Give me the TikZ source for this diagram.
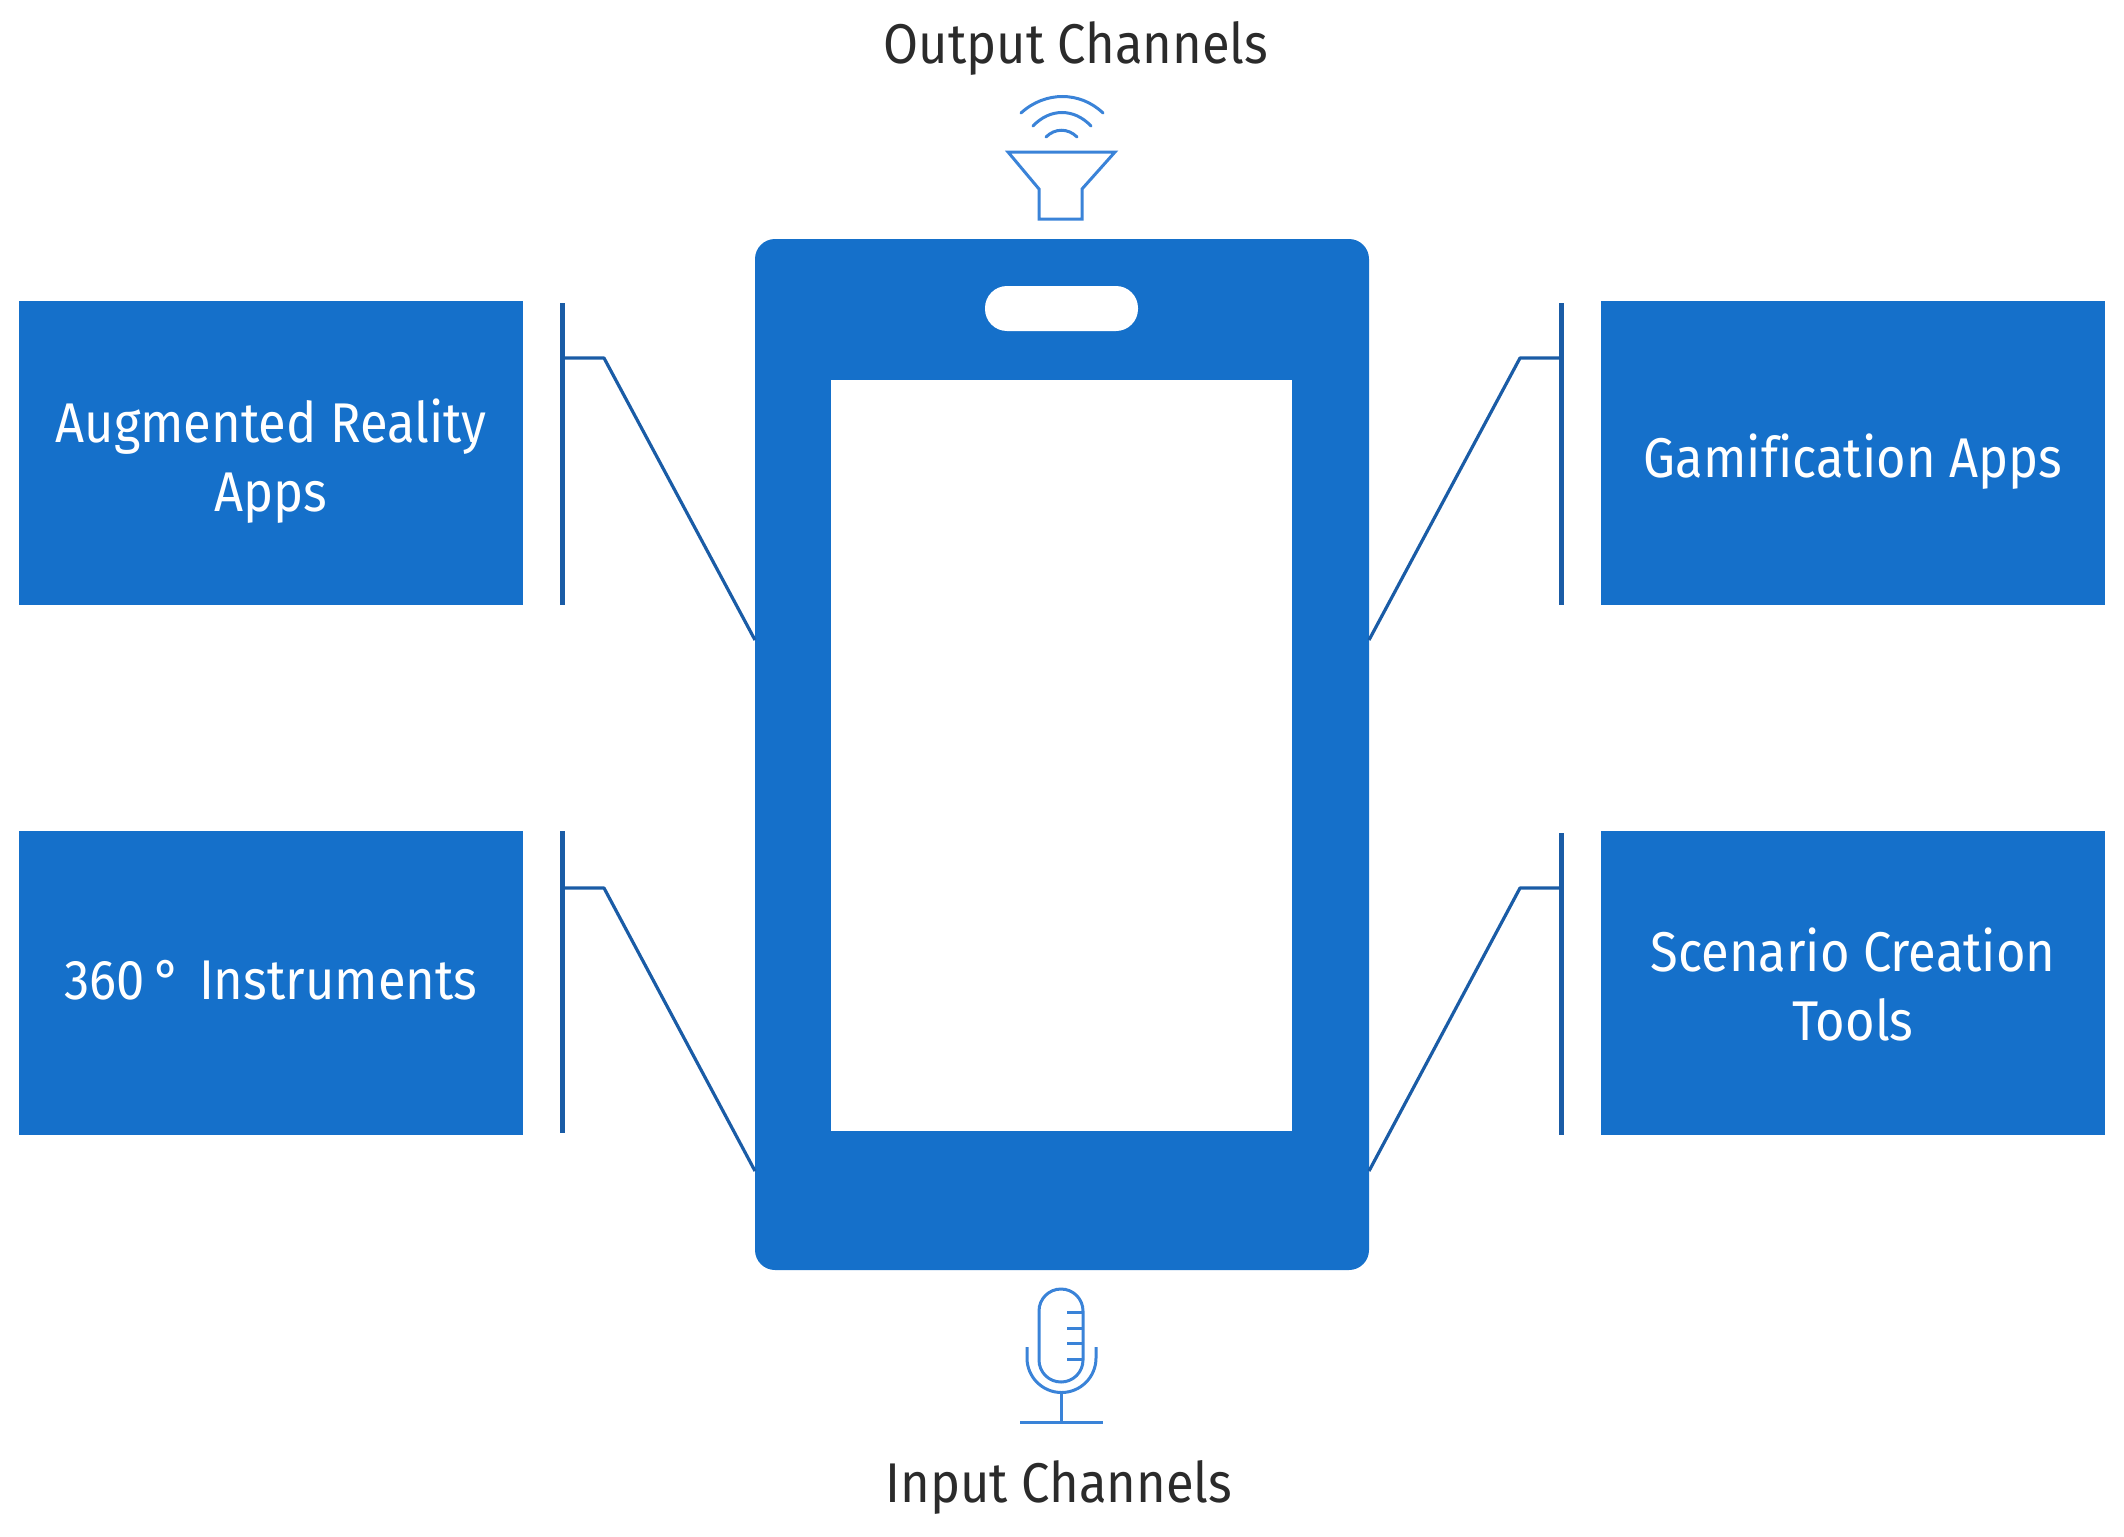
\documentclass[tikz,border=0pt]{standalone}
\usepackage{fontspec}
\setmainfont[FakeStretch=0.905,Ligatures=NoCommon]{Fira Sans}
\definecolor{phoneblue}{HTML}{1570CA}
\definecolor{linkblue}{HTML}{1A5CA6}
\definecolor{iconblue}{HTML}{3A83D8}
\definecolor{inkgray}{HTML}{2B2B2B}
\tikzset{
  x=1pt,y=-1pt,
  appbox/.style={draw=none,fill=phoneblue,minimum width=504pt,minimum height=304pt,inner sep=0pt},
  boxtext/.style={inner sep=0pt,text=white,align=center,font=\fontsize{56}{69}\selectfont},
  caption/.style={inner sep=0pt,text=inkgray,anchor=base,font=\fontsize{56}{69}\selectfont},
  bracket/.style={draw=linkblue,line width=5pt},
  link/.style={draw=linkblue,line width=3.2pt,line join=round},
  icon/.style={draw=iconblue,line width=3pt,line join=miter},
}
\begin{document}
\begin{tikzpicture}
\useasboundingbox (0,0) rectangle (2124,1536);
% phone
\node[fill=phoneblue,rounded corners=20pt,minimum width=614pt,minimum height=1031pt,inner sep=0pt] (phone) at (1062,754.5) {};
\node[fill=white,minimum width=461pt,minimum height=751pt,inner sep=0pt] (screen) at (1061.5,755.5) {};
\node[fill=white,rounded corners=22pt,minimum width=153pt,minimum height=45pt,inner sep=0pt] (pill) at (1061.5,308.5) {};
% boxes
\node[appbox] (ar) at (271,453) {};
\node[appbox] (inst) at (271,983) {};
\node[appbox] (gam) at (1853,453) {};
\node[appbox] (scen) at (1853,983) {};
\node[boxtext] (artext) at ([yshift=-8pt]ar.center) {Augmented Reality\\Apps};
\node[boxtext] (insttext) at ([yshift=3pt]inst.center) {360\,°\hspace{18pt}Instruments};
\node[boxtext] (gamtext) at ([yshift=-9pt]gam.center) {Gamification Apps};
\node[boxtext] (scentext) at ([yshift=-1pt]scen.center) {Scenario Creation\\Tools};
% brackets and links
\coordinate (a1) at (562,303); \coordinate (a2) at (562,605); \coordinate (a3) at (562,358); \coordinate (a4) at (604,358); \coordinate (a5) at (755,640);
\coordinate (b1) at (562,831); \coordinate (b2) at (562,1133); \coordinate (b3) at (562,888); \coordinate (b4) at (604,888); \coordinate (b5) at (755,1171);
\coordinate (c1) at (1561,303); \coordinate (c2) at (1561,605); \coordinate (c3) at (1561,358); \coordinate (c4) at (1520,358); \coordinate (c5) at (1369,640);
\coordinate (d1) at (1561,833); \coordinate (d2) at (1561,1135); \coordinate (d3) at (1561,888); \coordinate (d4) at (1520,888); \coordinate (d5) at (1369,1171);
\draw[bracket] (a1) -- (a2);
\draw[bracket] (b1) -- (b2);
\draw[bracket] (c1) -- (c2);
\draw[bracket] (d1) -- (d2);
\draw[link] (a3) -- (a4) -- (a5);
\draw[link] (b3) -- (b4) -- (b5);
\draw[link] (c3) -- (c4) -- (c5);
\draw[link] (d3) -- (d4) -- (d5);
% captions
\node[caption] (out) at (1076,64) {Output Channels};
\node[caption] (in) at (1059,1502) {Input Channels};
% speaker
\draw[icon] (1008,152) -- (1115,152) -- (1082,189) -- (1082,219) -- (1039,219) -- (1039,189) -- cycle;
\draw[icon,line cap=round] (1021,113) .. controls (1045,91) and (1080,91) .. (1103,113);
\draw[icon,line cap=round] (1033,126) .. controls (1050,108) and (1074,108) .. (1091,126);
\draw[icon,line cap=round] (1046,137) .. controls (1055,128) and (1068,128) .. (1077,137);
% microphone
\draw[icon] (1039,1311) arc[start angle=180,end angle=360,radius=22] -- (1083,1360) arc[start angle=0,end angle=180,radius=22] -- cycle;
\draw[icon] (1067,1312) -- (1083,1312) (1067,1328) -- (1083,1328) (1067,1343) -- (1083,1343) (1067,1359) -- (1083,1359);
\draw[icon] (1027,1347) -- (1027,1358) arc[start angle=180,end angle=0,radius=34.5] -- (1096,1347);
\draw[icon] (1061.5,1393) -- (1061.5,1422);
\draw[icon] (1020,1422) -- (1103,1422);
\end{tikzpicture}
\end{document}
